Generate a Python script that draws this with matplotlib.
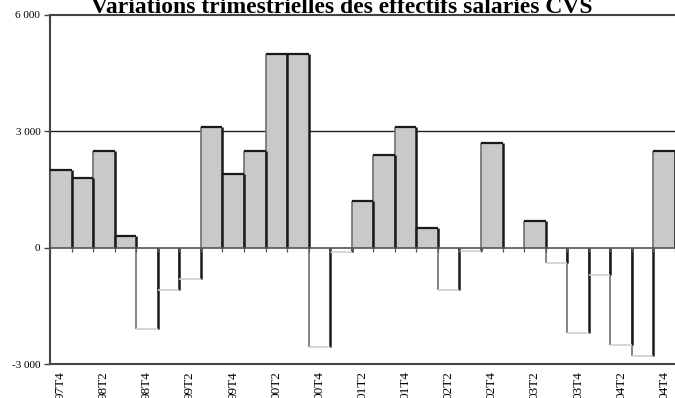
import numpy as np
import matplotlib.pyplot as plt

plt.rcParams['font.family'] = ['Liberation Serif', 'DejaVu Serif']

# quarterly change in seasonally adjusted payroll employment
quarters = ['97T4', '98T1', '98T2', '98T3', '98T4', '99T1', '99T2', '99T3', '99T4',
            '00T1', '00T2', '00T3', '00T4', '01T1', '01T2', '01T3', '01T4',
            '02T1', '02T2', '02T3', '02T4', '03T1', '03T2', '03T3', '03T4',
            '04T1', '04T2', '04T3', '04T4']
values = [2000, 1800, 2500, 300, -2100, -1100, -800, 3100, 1900,
          2500, 5000, 5000, -2550, -100, 1200, 2400, 3100,
          500, -1100, -80, 2700, 0, 700, -400, -2200,
          -700, -2500, -2800, 2500]
yticks = [-3000, 0, 3000, 6000]
ytick_labels = ['-3 000', '0', '3 000', '6 000']

n = len(values)
x = np.arange(n)
vals = np.array(values)

fig = plt.figure(figsize=(6.75, 3.98), dpi=100)
ax = fig.add_axes([50 / 675, 1 - 364 / 398, 1 - 50 / 675, (364 - 15) / 398])

colors = ['#c8c9cb' if v > 0 else 'white' for v in vals]
ax.bar(x, vals, width=1.0, color=colors, edgecolor='none', zorder=2)

# bar outlines: dark sides, dark top on positives, pale bottom on negatives
left = x - 0.5
right = x + 0.5
ax.vlines(left, 0, vals, color='#707070', lw=1.2, zorder=3)
ax.vlines(right, 0, vals, color='#1a1a1a', lw=1.8, zorder=3)
pos = vals > 0
neg = vals < 0
ax.hlines(vals[pos], left[pos], right[pos], color='#1a1a1a', lw=1.6, zorder=3)
ax.hlines(vals[neg], left[neg], right[neg], color='#d0d0d0', lw=1.2, zorder=3)

# zero line with small ticks at the bar boundaries
ax.axhline(0, color='#555555', lw=1.2, zorder=4)
bounds = np.arange(n + 1) - 0.5
ax.vlines(bounds, -110, 0, color='#555555', lw=0.9, zorder=4)

ax.axhline(3000, color='#222222', lw=1.0, zorder=1)
ax.axhline(6000, color='#444444', lw=1.5, zorder=1, clip_on=False)

ax.set_xlim(-0.5, n - 0.5)
ax.set_ylim(-3000, 6000)
ax.set_yticks(yticks)
ax.set_yticklabels(ytick_labels, fontsize=8)
ax.tick_params(axis='y', length=4, width=1.0, color='#444444', pad=3)

ax.set_xticks(x[::2])
ax.set_xticklabels(quarters[::2], rotation=90, fontsize=9.5, va='top')
ax.tick_params(axis='x', length=0, pad=5)

for side in ['top', 'right']:
    ax.spines[side].set_visible(False)
ax.spines['left'].set_color('#444444')
ax.spines['left'].set_linewidth(1.5)
ax.spines['bottom'].set_color('#444444')
ax.spines['bottom'].set_linewidth(1.5)

fig.text(0.507, 1 - 13 / 398, 'Variations trimestrielles des effectifs salariés CVS',
         ha='center', va='baseline', fontsize=17, fontweight='bold')

fig.savefig('out.png', dpi=100)
